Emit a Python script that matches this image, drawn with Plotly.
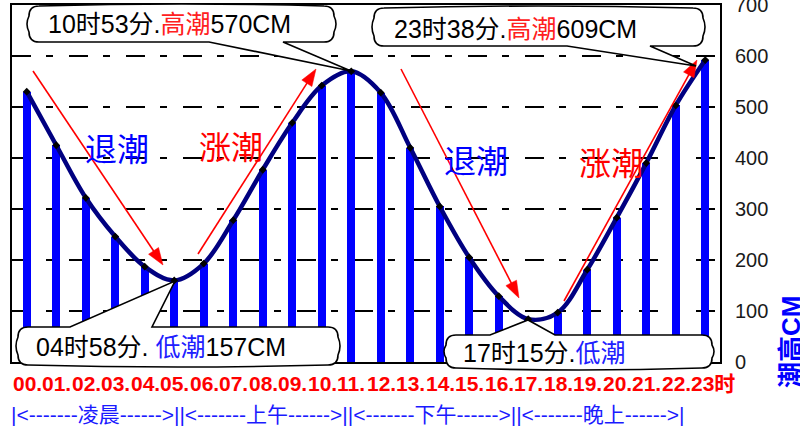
import plotly.graph_objects as go

# ---------------- data ----------------
hours = list(range(24))
tide_cm = [530, 425, 322, 246, 187, 160, 193, 278, 377, 469, 542, 570,
           528, 420, 305, 205, 129, 84, 97, 181, 283, 390, 503, 592]
hour_labels = ["00.", "01.", "02.", "03.", "04.", "05.", "06.", "07.", "08.",
               "09.", "10.", "11.", "12.", "13.", "14.", "15.", "16.", "17.",
               "18.", "19.", "20.", "21.", "22.", "23时"]
periods = ["凌晨", "上午", "下午", "晚上"]
y_ticks = [0, 100, 200, 300, 400, 500, 600, 700]

# ---------------- geometry helpers (pixels -> paper) ----------------
W, H = 800, 432
PL, PR, PT, PB = 12, 720, 5, 362
PW, PH = PR - PL, PB - PT


def P(x, y):
    return (x - PL) / PW, (PB - y) / PH


def fmt(x, y):
    a, b = P(x, y)
    return f"{a:.5f},{b:.5f}"


def bubble(x0, y0, x1, y1, base, tip, side, r=10, bul=4):
    xm, ym = (x0 + x1) / 2, (y0 + y1) / 2
    a, b = base
    d = f"M{fmt(x0 + r, y0)} "
    if side == "top":
        d += f"L{fmt(a, y0)} L{fmt(*tip)} L{fmt(b, y0)} L{fmt(x1 - r, y0)} "
    else:
        d += f"Q{fmt(xm, y0 - bul)} {fmt(x1 - r, y0)} "
    d += f"Q{fmt(x1, y0)} {fmt(x1, y0 + r)} "
    d += f"Q{fmt(x1 + bul, ym)} {fmt(x1, y1 - r)} "
    d += f"Q{fmt(x1, y1)} {fmt(x1 - r, y1)} "
    if side == "bottom":
        d += f"L{fmt(b, y1)} L{fmt(*tip)} L{fmt(a, y1)} L{fmt(x0 + r, y1)} "
    else:
        d += f"Q{fmt(xm, y1 + bul)} {fmt(x0 + r, y1)} "
    d += f"Q{fmt(x0, y1)} {fmt(x0, y1 - r)} "
    d += f"Q{fmt(x0 - bul, ym)} {fmt(x0, y0 + r)} "
    d += f"Q{fmt(x0, y0)} {fmt(x0 + r, y0)} Z"
    return dict(type="path", xref="paper", yref="paper", path=d,
                fillcolor="white", line=dict(color="black", width=1.6),
                layer="above")


def arrow(x0, y0, x1, y1, hl=17, hw=12, color="red"):
    dx, dy = x1 - x0, y1 - y0
    L = (dx * dx + dy * dy) ** 0.5
    ux, uy = dx / L, dy / L
    nx, ny = -uy, ux
    bx, by = x1 - hl * ux, y1 - hl * uy
    a0, b0 = P(x0, y0)
    a1, b1 = P(bx + ux * 2, by + uy * 2)
    line = dict(type="line", xref="paper", yref="paper", x0=a0, y0=b0,
                x1=a1, y1=b1, line=dict(color=color, width=1.6), layer="above")
    head = dict(type="path", xref="paper", yref="paper",
                path=f"M{fmt(x1, y1)} L{fmt(bx + nx * hw / 2, by + ny * hw / 2)} "
                     f"L{fmt(bx - nx * hw / 2, by - ny * hw / 2)} Z",
                fillcolor=color, line=dict(color=color, width=0.5), layer="above")
    return [line, head]


FONT = "Liberation Sans, Arial, Noto Sans CJK SC, sans-serif"
CJK = "Noto Sans CJK SC, Liberation Sans, sans-serif"

fig = go.Figure()
fig.add_trace(go.Bar(x=hours, y=tide_cm, width=0.28,
                     marker=dict(color="#0000ff", line=dict(width=0)),
                     hoverinfo="skip"))
fig.add_trace(go.Scatter(x=hours, y=tide_cm, mode="lines+markers",
                         line=dict(color="#000080", width=4.5, shape="spline",
                                   smoothing=1.0),
                         marker=dict(symbol="diamond", size=6, color="black"),
                         hoverinfo="skip"))

shapes = []
for s in [(33, 71, 163, 265), (198, 254, 316, 69), (401, 69, 519, 298),
          (564, 301, 697, 60)]:
    shapes += arrow(*s)

shapes.append(bubble(29, 6, 334, 42, (209, 283), (351, 71), "bottom"))
shapes.append(bubble(374, 8, 703, 46, (567, 650), (696, 66), "bottom"))
shapes.append(bubble(18, 327, 338, 365, (70, 152), (175, 281), "top"))
shapes.append(bubble(446, 335, 712, 368, (490, 555), (528, 320), "top"))

annotations = []


def txt(x, y, text, size, color="black", anchor="left", family=FONT, **kw):
    a, b = P(x, y)
    annotations.append(dict(x=a, y=b, xref="paper", yref="paper", text=text,
                            showarrow=False, xanchor=anchor, yanchor="middle",
                            font=dict(size=size, color=color, family=family),
                            **kw))


txt(46, 24, "10时53分.<span style='color:#ff2020'>高潮</span>570CM", 25)
txt(392, 29, "23时38分.<span style='color:#ff2020'>高潮</span>609CM", 25)
txt(34, 347, "04时58分. <span style='color:#2020ff'>低潮</span>157CM", 25)
txt(461, 353, "17时15分.<span style='color:#2020ff'>低潮</span>", 25)

txt(117, 147, "退潮", 32, "#0000ff", "center", CJK)
txt(231, 145, "涨潮", 32, "#ff0000", "center", CJK)
txt(476, 159, "退潮", 32, "#0000ff", "center", CJK)
txt(611, 161, "涨潮", 32, "#ff0000", "center", CJK)

# hour tick labels
for h, lab in zip(hours, hour_labels):
    annotations.append(dict(x=h, y=P(0, 383)[1], xref="x", yref="paper",
                            text=f"<b>{lab}</b>", showarrow=False,
                            xanchor="left", yanchor="middle", xshift=-16,
                            font=dict(size=21, color="#ff0000", family=FONT)))

period_text = "".join(f"|<-------{p}------>|" for p in periods)
txt(9, 415, period_text, 21, "#1a1aff")

txt(791, 342, "<b>潮高CM</b>", 26, "#0000ff", "center", FONT, textangle=-90)

fig.update_layout(
    width=W, height=H,
    margin=dict(l=PL, r=W - PR, t=PT, b=H - PB, autoexpand=False),
    paper_bgcolor="white", plot_bgcolor="white",
    showlegend=False, bargap=0,
    shapes=shapes, annotations=annotations,
    xaxis=dict(range=[-0.5, 23.5], showticklabels=False, showgrid=False,
               zeroline=False, showline=True, mirror=True, linecolor="black",
               linewidth=2, ticks="", automargin=False),
    yaxis=dict(range=[0, 700], side="right", tickvals=y_ticks,
               showgrid=True, gridcolor="black", gridwidth=2,
               griddash="19px,15px,7px,16px", zeroline=False,
               showline=True, mirror=True, linecolor="black", linewidth=2,
               ticks="", ticklabelstandoff=9, ticklabeloverflow="allow",
               automargin=False,
               tickfont=dict(size=20, color="#1a1a1a", family=FONT)),
)

fig.write_html("out.html", config={"displayModeBar": False},
               post_script="document.body.style.margin='0';"
                           "document.body.style.overflow='hidden';")
